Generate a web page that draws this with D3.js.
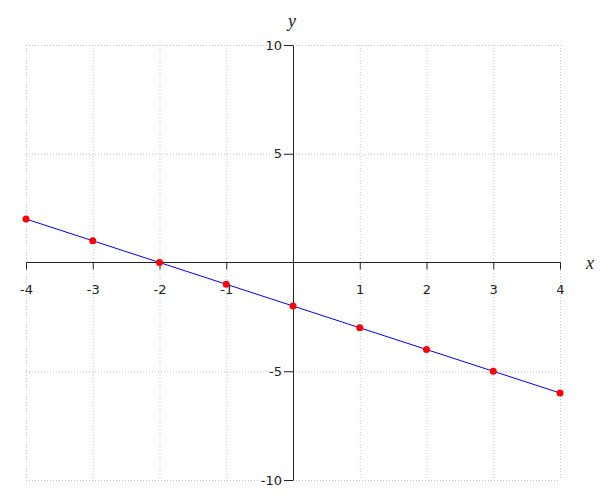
<!DOCTYPE html>
<html>
<head>
<meta charset="utf-8">
<script src="https://cdn.jsdelivr.net/npm/d3@7"></script>
<style>
  body { margin: 0; background: #fff; }
  svg { display: block; }
</style>
</head>
<body>
<div id="chart"></div>
<script>
// data points
const xValues = [-4, -3, -2, -1, 0, 1, 2, 3, 4];
const yValues = [2, 1, 0, -1, -2, -3, -4, -5, -6];
const xTicks = [-4, -3, -2, -1, 1, 2, 3, 4];
const yTicks = [-10, -5, 5, 10];
const xGrid = [-4, -3, -2, -1, 0, 1, 2, 3, 4];
const yGrid = [-10, -5, 5, 10];

const width = 600, height = 500;

const svg = d3.select("#chart")
  .append("svg")
  .attr("width", width)
  .attr("height", height);

const x = d3.scaleLinear().domain([-4, 4]).range([26, 560]);
const y = d3.scaleLinear().domain([-10, 10]).range([480, 45]);

// dotted grid
svg.append("g")
  .selectAll("line")
  .data(xGrid)
  .enter()
  .append("line")
  .attr("x1", d => x(d) + 0.5)
  .attr("x2", d => x(d) + 0.5)
  .attr("y1", y(10))
  .attr("y2", y(-10))
  .attr("stroke", "#c8c8c8")
  .attr("stroke-dasharray", "1,2");

svg.append("g")
  .selectAll("line")
  .data(yGrid)
  .enter()
  .append("line")
  .attr("x1", x(-4))
  .attr("x2", x(4))
  .attr("y1", d => y(d) + 0.5)
  .attr("y2", d => y(d) + 0.5)
  .attr("stroke", "#c8c8c8")
  .attr("stroke-dasharray", "1,2");

// axes through the origin
const xAxis = d3.axisBottom(x).tickValues(xTicks).tickSize(7).tickPadding(15)
  .tickFormat(d => String(d));
const yAxis = d3.axisLeft(y).tickValues(yTicks).tickSize(9).tickPadding(2)
  .tickFormat(d => String(d));

const gx = svg.append("g")
  .attr("transform", `translate(0, ${y(0)})`)
  .call(xAxis);
gx.select(".domain").attr("d", `M${x(-4) + 0.5},0H${x(4) + 0.5}`);

const gy = svg.append("g")
  .attr("transform", `translate(${x(0)}, 0)`)
  .call(yAxis);
gy.select(".domain").attr("d", `M0.5,${y(10) + 0.5}V${y(-10) + 0.5}`);

svg.selectAll(".tick text")
  .attr("font-family", "DejaVu Sans")
  .attr("font-size", 13)
  .attr("fill", "#222");
svg.selectAll(".tick line").attr("stroke", "#222");
svg.selectAll(".domain").attr("stroke", "#222");

// data line
const line = d3.line()
  .x((d, i) => x(xValues[i]))
  .y(d => y(d));

svg.append("path")
  .datum(yValues)
  .attr("d", line)
  .attr("fill", "none")
  .attr("stroke", "#0000ff")
  .attr("stroke-width", 1);

// points
svg.append("g")
  .selectAll("circle")
  .data(yValues)
  .enter()
  .append("circle")
  .attr("cx", (d, i) => x(xValues[i]))
  .attr("cy", d => y(d))
  .attr("r", 3.5)
  .attr("fill", "#ff0000");

// axis labels
svg.append("text")
  .attr("x", x(0) - 1)
  .attr("y", 27)
  .attr("text-anchor", "middle")
  .attr("font-family", "Liberation Serif")
  .attr("font-style", "italic")
  .attr("font-size", 18)
  .attr("fill", "#222")
  .text("y");

svg.append("text")
  .attr("x", 590)
  .attr("y", y(0) + 6)
  .attr("text-anchor", "middle")
  .attr("font-family", "Liberation Serif")
  .attr("font-style", "italic")
  .attr("font-size", 18)
  .attr("fill", "#222")
  .text("x");
</script>
</body>
</html>
